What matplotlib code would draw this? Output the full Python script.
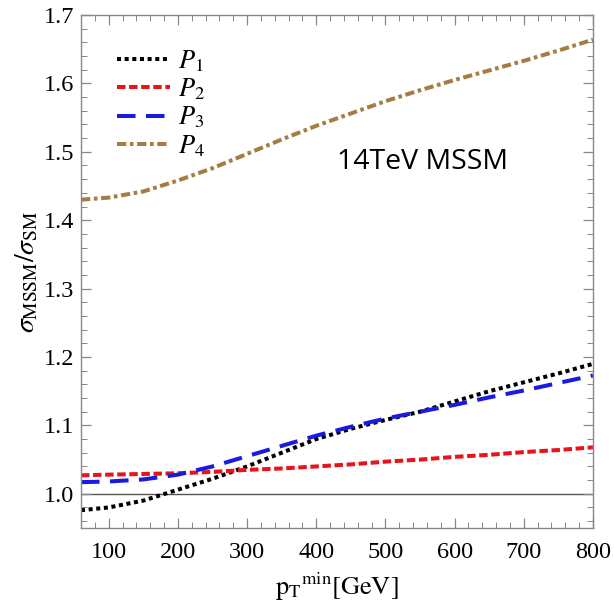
import matplotlib
matplotlib.use("Agg")
import matplotlib.pyplot as plt
from matplotlib.ticker import MultipleLocator, FormatStrFormatter

plt.rcParams['font.family'] = ['Liberation Serif', 'DejaVu Serif']
plt.rcParams['mathtext.fontset'] = 'stix'

# values
pt_min = [60, 100, 150, 200, 250, 300, 350, 400, 450, 500, 550, 600, 650, 700, 750, 800]
p1 = [0.976, 0.980, 0.990, 1.006, 1.022, 1.040, 1.060, 1.080, 1.095, 1.108,
      1.120, 1.135, 1.150, 1.163, 1.176, 1.190]
p2 = [1.027, 1.028, 1.029, 1.030, 1.032, 1.035, 1.037, 1.040, 1.043, 1.047,
      1.050, 1.054, 1.057, 1.061, 1.064, 1.068]
p3 = [1.017, 1.018, 1.021, 1.028, 1.040, 1.055, 1.070, 1.085, 1.098, 1.110,
      1.120, 1.130, 1.141, 1.151, 1.162, 1.173]
p4 = [1.430, 1.433, 1.442, 1.458, 1.476, 1.497, 1.518, 1.538, 1.556, 1.574,
      1.590, 1.605, 1.619, 1.633, 1.648, 1.664]
labels = [r'$P_1$', r'$P_2$', r'$P_3$', r'$P_4$']

fig = plt.figure(figsize=(6.14, 6.04), dpi=100)
ax = fig.add_axes([81/614, 1 - 528/604, (593-81)/614, (528-15)/604])

ax.axhline(1.0, color='#555555', lw=1.0, zorder=1)
ax.plot(pt_min, p1, color='black', lw=2.9, dashes=(1.0, 0.9), label=labels[0])
ax.plot(pt_min, p2, color='#e8141c', lw=2.9, dashes=(2.1, 0.9), label=labels[1])
ax.plot(pt_min, p3, color='#1a1ae0', lw=2.9, dashes=(4.6, 2.6), label=labels[2])
ax.plot(pt_min, p4, color='#a67c45', lw=2.9, dashes=(2.3, 0.9, 0.9, 0.9), label=labels[3])

ax.set_xlim(60, 800)
ax.set_ylim(0.95, 1.7)
ax.xaxis.set_major_locator(MultipleLocator(100))
ax.xaxis.set_minor_locator(MultipleLocator(20))
ax.yaxis.set_major_locator(MultipleLocator(0.1))
ax.yaxis.set_minor_locator(MultipleLocator(0.02))
ax.yaxis.set_major_formatter(FormatStrFormatter('%.1f'))
ax.tick_params(which='both', direction='in', top=True, right=True,
               color='#888888', labelsize=17.5)
ax.tick_params(which='major', length=7, width=0.9)
ax.tick_params(which='minor', length=4, width=0.7)
ax.tick_params(axis='x', pad=10)
ax.tick_params(axis='y', pad=5)
for s in ax.spines.values():
    s.set_color('#888888')
    s.set_linewidth(1.0)

ax.set_xlabel(r'$\mathrm{p_T}^{\mathrm{min}}\mathrm{[GeV]}$', fontsize=19, labelpad=6)
ax.set_ylabel(r'$\sigma_{\mathrm{MSSM}}/\sigma_{\mathrm{SM}}$', fontsize=20, labelpad=2)

ax.text(553, 1.485, '14TeV MSSM', fontsize=20.5, family='Open Sans',
        ha='center', va='center')

leg = ax.legend(loc='upper left', bbox_to_anchor=(0.07, 0.935), frameon=False,
                fontsize=19, handlelength=2.0, handletextpad=0.3,
                labelspacing=0.1, borderaxespad=0, borderpad=0)

fig.savefig('out.png', dpi=100)
